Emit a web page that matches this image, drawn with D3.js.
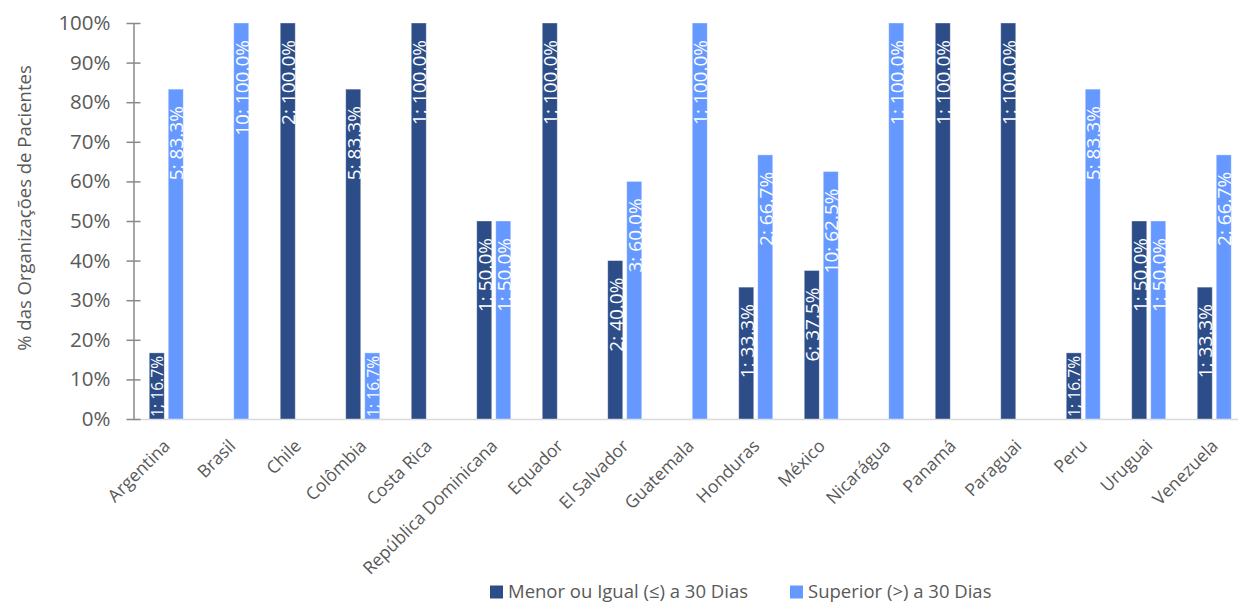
<!DOCTYPE html>
<html>
<head>
<meta charset="utf-8">
<script src="https://cdn.jsdelivr.net/npm/d3@7"></script>
<style>
  html, body { margin: 0; padding: 0; background: #fff; }
  svg { display: block; font-family: "Open Sans", "DejaVu Sans", sans-serif; }
</style>
</head>
<body>
<svg id="chart" width="1238" height="603"></svg>
<script>
// Countries on the category axis
const categories = ["Argentina", "Brasil", "Chile", "Colômbia", "Costa Rica", "República Dominicana",
  "Equador", "El Salvador", "Guatemala", "Honduras", "México", "Nicarágua", "Panamá", "Paraguai",
  "Peru", "Uruguai", "Venezuela"];

// Series names (legend)
const seriesNames = ["Menor ou Igual (≤) a 30 Dias", "Superior (>) a 30 Dias"];

// Number of organizations per country, per series
const countsMenor    = [1, 0, 2, 5, 1, 1, 1, 2, 0, 1, 6, 0, 1, 1, 1, 1, 1];
const countsSuperior = [5, 10, 0, 1, 0, 1, 0, 3, 1, 2, 10, 1, 0, 0, 5, 1, 2];

// Share of organizations (%), per series
const pctMenor    = [16.7, 0, 100, 83.3, 100, 50, 100, 40, 0, 33.3, 37.5, 0, 100, 100, 16.7, 50, 33.3];
const pctSuperior = [83.3, 100, 0, 16.7, 0, 50, 0, 60, 100, 66.7, 62.5, 100, 0, 0, 83.3, 50, 66.7];

// Y-axis ticks
const yTicks = [0, 10, 20, 30, 40, 50, 60, 70, 80, 90, 100];
const yTitle = "% das Organizações de Pacientes";

const colors = ["#2C4D87", "#6699FF"];
const textColor = "#595959";

const svg = d3.select("#chart");

const plot = { left: 133.5, right: 1247, top: 23, bottom: 419 };

const x = d3.scaleBand().domain(categories).range([plot.left, plot.right]).paddingInner(0).paddingOuter(0);
const x1 = d3.scaleBand().domain([0, 1]).range([-17, 17]).paddingInner(0.2105).paddingOuter(0);
const y = d3.scaleLinear().domain([0, 100]).range([plot.bottom, plot.top]);

// Rows for the bars
const rows = [];
categories.forEach((c, i) => {
  rows.push({ cat: c, s: 0, n: countsMenor[i], v: pctMenor[i] });
  rows.push({ cat: c, s: 1, n: countsSuperior[i], v: pctSuperior[i] });
});
const drawn = rows.filter(d => d.n > 0);

// Baseline along the category axis
svg.append("line")
  .attr("x1", plot.left).attr("x2", 1238)
  .attr("y1", plot.bottom + 0.5).attr("y2", plot.bottom + 0.5)
  .attr("stroke", "#D9D9D9").attr("stroke-width", 1.5);

// Bars
svg.append("g").selectAll("rect").data(drawn).join("rect")
  .attr("x", d => x(d.cat) + x.bandwidth() / 2 + x1(d.s))
  .attr("width", x1.bandwidth())
  .attr("y", d => y(d.v))
  .attr("height", d => y(0) - y(d.v))
  .attr("fill", d => colors[d.s])
  .attr("stroke", "#ffffff").attr("stroke-opacity", 0.45).attr("stroke-width", 0.8);

// Value labels inside the bars, rotated
const labelSize = 19;
const lg = svg.append("g");
drawn.forEach(d => {
  const cx = x(d.cat) + x.bandwidth() / 2 + x1(d.s) + x1.bandwidth() / 2;
  const top = y(d.v);
  const t = lg.append("text")
    .attr("fill", "#ffffff")
    .attr("font-size", labelSize)
    .attr("dominant-baseline", "central")
    .attr("text-anchor", "end")
    .text(`${d.n}; ${d.v.toFixed(1)}%`);
  let len = t.node().getComputedTextLength();
  const avail = y(0) - top - 5;
  let endY = top + 17;
  if (endY + len > y(0) - 2) {
    // Too short: shrink to fit and sit on the baseline
    if (len > avail) {
      t.attr("font-size", labelSize * avail / len);
      len = avail;
    }
    endY = y(0) - 2 - len;
  }
  t.attr("transform", `translate(${cx + 0.5},${endY}) rotate(-90)`);
});

// Y axis
const yAxis = svg.append("g")
  .attr("transform", `translate(${plot.left},0)`)
  .call(d3.axisLeft(y).tickValues(yTicks).tickSize(0).tickPadding(23).tickFormat(d => d + "%"));
yAxis.select(".domain").attr("stroke", "#898989").attr("stroke-width", 1.5);
yAxis.selectAll(".tick text").attr("fill", textColor).attr("font-size", 20.5)
  .attr("font-family", "'Open Sans', sans-serif");
yAxis.selectAll(".tick").append("line")
  .attr("x1", -7).attr("x2", 7)
  .attr("stroke", "#898989").attr("stroke-width", 1.5);

// Y axis title
svg.append("text")
  .attr("transform", `translate(23,208) rotate(-90)`)
  .attr("text-anchor", "middle")
  .attr("dominant-baseline", "central")
  .attr("fill", textColor)
  .attr("font-size", 18.5)
  .text(yTitle);

// Category labels, rotated 45°
svg.append("g").selectAll("text").data(categories).join("text")
  .attr("transform", d => `translate(${x(d) + x.bandwidth() / 2 + 5},${plot.bottom + 28}) rotate(-45)`)
  .attr("text-anchor", "end")
  .attr("fill", textColor)
  .attr("font-size", 17.5)
  .text(d => d);

// Legend
const legend = svg.append("g");
const legendX = [490, 790];
seriesNames.forEach((name, i) => {
  legend.append("rect")
    .attr("x", legendX[i]).attr("y", 585.5)
    .attr("width", 13).attr("height", 13)
    .attr("fill", colors[i]);
  legend.append("text")
    .attr("x", legendX[i] + 18).attr("y", 598)
    .attr("fill", textColor)
    .attr("font-size", 18.5)
    .text(name);
});
</script>
</body>
</html>
